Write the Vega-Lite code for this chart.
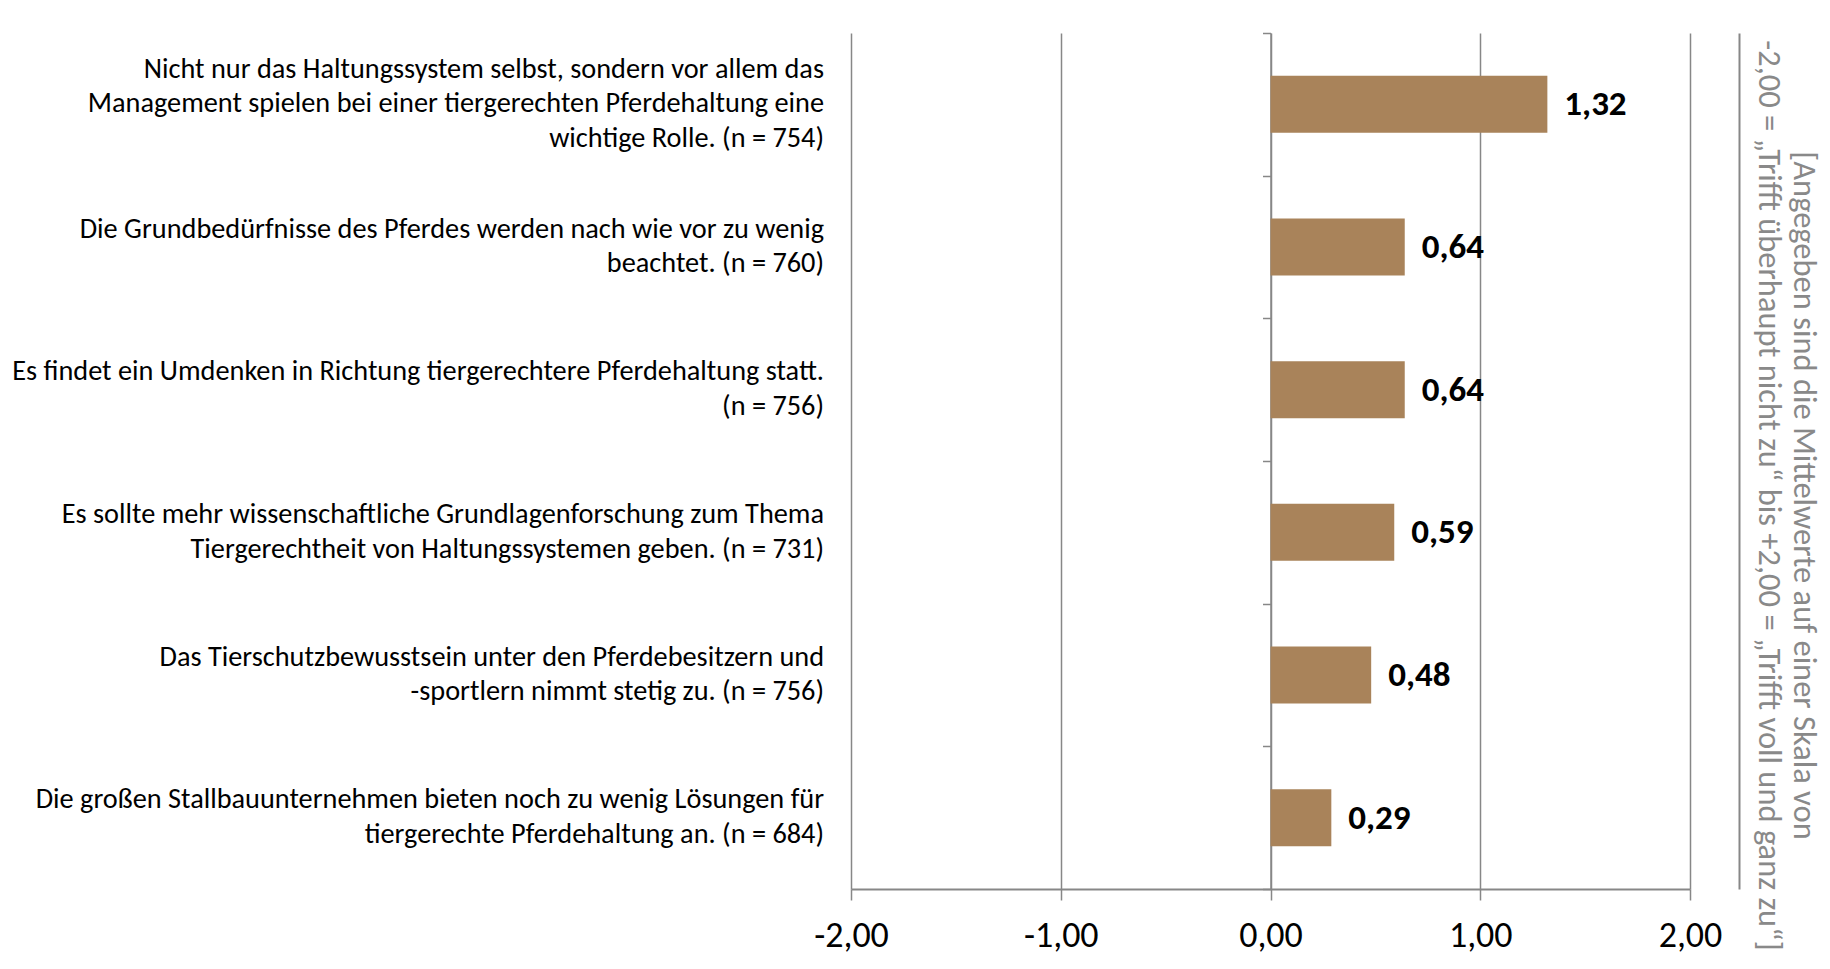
{
  "$schema": "https://vega.github.io/schema/vega-lite/v6.json",
  "width": 839,
  "height": 856,
  "autosize": {"type": "none"},
  "padding": {"left": 851, "top": 33, "right": 140, "bottom": 80},
  "background": "#ffffff",
  "config": {
    "locale": {"number": {"decimal": ",", "thousands": ".", "grouping": [3], "currency": ["", " €"], "minus": "-"}},
    "view": {"stroke": null},
    "font": "Carlito, Lato, sans-serif"
  },
  "data": {
    "values": [
      {"item": "Nicht nur das Haltungssystem selbst, sondern vor allem das Management spielen bei einer tiergerechten Pferdehaltung eine wichtige Rolle. (n = 754)", "lines": ["Nicht nur das Haltungssystem selbst, sondern vor allem das", "Management spielen bei einer tiergerechten Pferdehaltung eine", "wichtige Rolle. (n = 754)"], "value": 1.32},
      {"item": "Die Grundbedürfnisse des Pferdes werden nach wie vor zu wenig beachtet. (n = 760)", "lines": ["Die Grundbedürfnisse des Pferdes werden nach wie vor zu wenig", "beachtet. (n = 760)"], "value": 0.64},
      {"item": "Es findet ein Umdenken in Richtung tiergerechtere Pferdehaltung statt. (n = 756)", "lines": ["Es findet ein Umdenken in Richtung tiergerechtere Pferdehaltung statt.", "(n = 756)"], "value": 0.64},
      {"item": "Es sollte mehr wissenschaftliche Grundlagenforschung zum Thema Tiergerechtheit von Haltungssystemen geben. (n = 731)", "lines": ["Es sollte mehr wissenschaftliche Grundlagenforschung zum Thema", "Tiergerechtheit von Haltungssystemen geben. (n = 731)"], "value": 0.59},
      {"item": "Das Tierschutzbewusstsein unter den Pferdebesitzern und -sportlern nimmt stetig zu. (n = 756)", "lines": ["Das Tierschutzbewusstsein unter den Pferdebesitzern und", "-sportlern nimmt stetig zu. (n = 756)"], "value": 0.48},
      {"item": "Die großen Stallbauunternehmen bieten noch zu wenig Lösungen für tiergerechte Pferdehaltung an. (n = 684)", "lines": ["Die großen Stallbauunternehmen bieten noch zu wenig Lösungen für", "tiergerechte Pferdehaltung an. (n = 684)"], "value": 0.29}
    ]
  },
  "layer": [
    {
      "mark": {"type": "bar", "color": "#A9835A", "height": {"band": 0.4}},
      "encoding": {
        "y": {
          "field": "item", "type": "nominal", "sort": null,
          "scale": {"paddingInner": 0, "paddingOuter": 0},
          "axis": {
            "orient": "left", "offset": -419.5, "title": null, "labels": false,
            "domainColor": "#878787", "domainWidth": 1.5,
            "ticks": true, "tickBand": "extent", "tickSize": 8, "tickColor": "#878787", "tickWidth": 1.5
          }
        },
        "x": {
          "field": "value", "type": "quantitative",
          "scale": {"domain": [-2, 2], "nice": false, "zero": false},
          "axis": {
            "values": [-2, -1, 0, 1, 2], "format": ".2f", "title": null,
            "grid": true, "gridColor": "#878787", "gridWidth": 1.5,
            "domainColor": "#878787", "domainWidth": 2,
            "tickColor": "#878787", "tickWidth": 1.5, "tickSize": 11,
            "labelFontSize": 36, "labelColor": "#000000", "labelPadding": 18, "labelFlush": false
          }
        }
      }
    },
    {
      "mark": {"type": "text", "align": "left", "baseline": "middle", "dx": 17, "fontSize": 35, "fontWeight": "bold", "color": "#000000"},
      "encoding": {
        "y": {
          "field": "item", "type": "nominal", "sort": null,
          "scale": {"paddingInner": 0, "paddingOuter": 0},
          "axis": {
            "orient": "right", "offset": 49, "labels": false, "ticks": false,
            "domainColor": "#878787", "domainWidth": 2,
            "title": ["[Angegeben sind die Mittelwerte auf einer Skala von", "-2,00 = „Trifft überhaupt nicht zu“ bis +2,00 = „Trifft voll und ganz zu“]"],
            "titleAngle": 90, "titleFontSize": 32.5, "titleColor": "#898989", "titleFontWeight": "normal",
            "titlePadding": 12, "titleY": 462, "titleLineHeight": 35
          }
        },
        "x": {"field": "value", "type": "quantitative"},
        "text": {"field": "value", "type": "quantitative", "format": ".2f"}
      }
    },
    {
      "transform": [{"filter": "length(datum.lines) == 3"}],
      "mark": {"type": "text", "align": "right", "baseline": "middle", "dx": -27, "dy": -34.5, "lineHeight": 34.5, "fontSize": 28.3, "color": "#000000"},
      "encoding": {
        "y": {"field": "item", "type": "nominal", "sort": null, "axis": null},
        "x": {"datum": -2, "type": "quantitative"},
        "text": {"field": "lines"}
      }
    },
    {
      "transform": [{"filter": "length(datum.lines) == 2"}],
      "mark": {"type": "text", "align": "right", "baseline": "middle", "dx": -27, "dy": -17.25, "lineHeight": 34.5, "fontSize": 28.3, "color": "#000000"},
      "encoding": {
        "y": {"field": "item", "type": "nominal", "sort": null, "axis": null},
        "x": {"datum": -2, "type": "quantitative"},
        "text": {"field": "lines"}
      }
    }
  ],
  "resolve": {"axis": {"y": "independent"}}
}
